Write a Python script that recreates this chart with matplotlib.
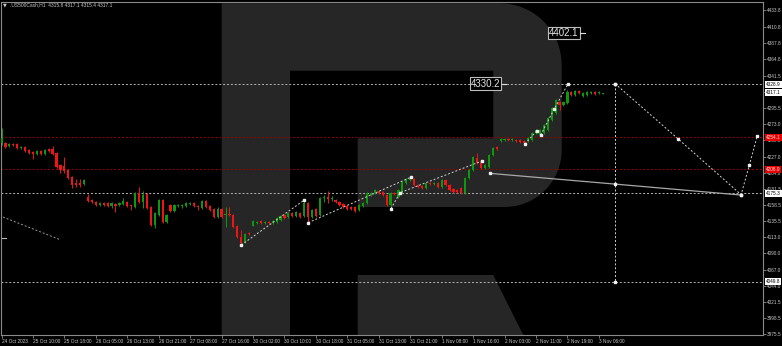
import matplotlib
matplotlib.use("Agg")
import matplotlib.pyplot as plt
import numpy as np
from matplotlib.patches import Polygon
from matplotlib.transforms import Affine2D

symbol = ".US500Cash,H1"
last_ohlc = ["4315.8", "4317.1", "4315.4", "4317.1"]

# hourly candles, 24 Oct - 2 Nov 2023
opens = [4246.1, 4246.1, 4241.8, 4244.7, 4244.7, 4239.0, 4240.4, 4236.2, 4233.4, 4230.5,
         4234.8, 4230.5, 4237.6, 4237.6, 4231.9, 4215.0, 4213.6, 4207.9, 4198.0, 4189.5,
         4189.5, 4188.1, 4169.7, 4165.5, 4162.6, 4158.4, 4161.2, 4161.2, 4157.0, 4159.8,
         4158.4, 4159.8, 4162.6, 4158.4, 4155.6, 4175.4, 4162.6, 4173.9, 4155.6, 4130.1,
         4144.2, 4165.5, 4134.4, 4158.4, 4149.9, 4157.0, 4157.0, 4157.0, 4159.8, 4161.2,
         4157.0, 4154.1, 4164.1, 4157.0, 4152.7, 4141.4, 4152.7, 4143.9, 4145.7, 4144.3,
         4128.7, 4113.1, 4106.0, 4118.3, 4129.2, 4133.0, 4135.8, 4133.0, 4134.4, 4133.0,
         4134.4, 4137.2, 4144.3, 4141.4, 4147.1, 4142.8, 4147.5, 4142.8, 4161.2, 4141.4,
         4152.7, 4144.3, 4168.3, 4169.7, 4166.9, 4165.5, 4162.6, 4160.0, 4157.0, 4155.6,
         4155.6, 4151.3, 4157.0, 4161.2, 4172.5, 4175.4, 4178.2, 4176.8, 4172.5, 4158.4,
         4175.4, 4169.7, 4176.8, 4189.5, 4193.8, 4195.2, 4186.7, 4185.3, 4182.4, 4189.5,
         4188.1, 4189.5, 4183.8, 4193.8, 4186.7, 4181.0, 4179.6, 4182.4, 4175.4, 4196.6,
         4207.9, 4224.9, 4219.2, 4210.7, 4212.1, 4229.1, 4240.4, 4249.0, 4250.3, 4251.8,
         4250.3, 4250.3, 4250.3, 4248.9, 4248.9, 4250.3, 4260.2, 4257.4, 4260.2, 4264.5,
         4278.6, 4288.5, 4304.1, 4299.9, 4302.7, 4318.3, 4314.1, 4319.7, 4312.7, 4314.1,
         4316.9, 4318.3, 4316.9, 4315.8]
highs = [4267.3, 4247.5, 4246.0, 4245.5, 4245.5, 4241.5, 4241.5, 4237.0, 4234.5, 4236.0,
         4236.0, 4237.0, 4239.0, 4241.8, 4233.0, 4216.0, 4226.3, 4209.0, 4199.0, 4195.2,
         4195.2, 4195.0, 4174.0, 4166.5, 4163.5, 4162.5, 4162.0, 4162.0, 4162.6, 4161.0,
         4162.0, 4168.3, 4164.0, 4159.0, 4177.0, 4183.8, 4178.2, 4175.0, 4156.5, 4148.0,
         4167.0, 4167.0, 4145.5, 4159.5, 4159.5, 4160.0, 4159.5, 4162.5, 4162.5, 4162.5,
         4158.0, 4165.5, 4165.5, 4158.0, 4154.0, 4155.6, 4154.0, 4155.6, 4155.6, 4146.0,
         4130.0, 4123.0, 4119.0, 4120.0, 4137.0, 4136.0, 4137.0, 4136.0, 4135.5, 4137.0,
         4141.5, 4144.0, 4145.5, 4148.5, 4148.5, 4150.0, 4149.0, 4165.5, 4162.5, 4152.5,
         4154.0, 4170.0, 4172.5, 4178.2, 4170.5, 4166.5, 4163.5, 4161.0, 4158.0, 4156.5,
         4156.5, 4159.5, 4162.5, 4177.0, 4177.0, 4181.0, 4179.5, 4178.0, 4174.0, 4176.8,
         4176.5, 4181.0, 4192.0, 4196.5, 4197.5, 4196.5, 4188.0, 4186.5, 4191.0, 4191.0,
         4191.0, 4191.0, 4195.0, 4195.0, 4188.0, 4182.5, 4181.0, 4183.8, 4198.0, 4209.5,
         4228.0, 4232.0, 4220.5, 4216.5, 4230.5, 4240.5, 4242.0, 4253.0, 4253.0, 4253.0,
         4253.0, 4251.5, 4251.5, 4250.0, 4254.5, 4261.5, 4266.0, 4266.0, 4273.0, 4283.0,
         4297.0, 4308.5, 4305.5, 4305.5, 4320.5, 4320.0, 4321.0, 4321.0, 4318.0, 4319.5,
         4319.5, 4319.5, 4319.5, 4317.1]
lows = [4243.3, 4239.0, 4241.0, 4242.5, 4238.0, 4238.0, 4233.5, 4231.0, 4223.5, 4229.5,
        4229.5, 4229.0, 4234.0, 4229.5, 4211.0, 4203.7, 4203.7, 4195.5, 4182.4, 4183.8,
        4183.8, 4187.0, 4163.0, 4161.5, 4157.0, 4157.5, 4157.5, 4156.0, 4154.1, 4148.5,
        4157.5, 4159.0, 4156.0, 4151.3, 4154.5, 4161.5, 4154.1, 4153.0, 4129.0, 4125.9,
        4143.0, 4133.0, 4132.5, 4148.5, 4148.5, 4156.0, 4154.0, 4156.0, 4159.0, 4156.0,
        4151.3, 4153.0, 4154.5, 4150.0, 4140.0, 4140.0, 4140.0, 4127.3, 4143.0, 4126.0,
        4112.0, 4101.5, 4104.5, 4115.5, 4128.0, 4132.0, 4132.0, 4132.0, 4132.0, 4132.0,
        4133.5, 4136.0, 4139.0, 4140.5, 4142.0, 4142.0, 4140.5, 4141.5, 4133.5, 4140.0,
        4141.5, 4143.0, 4162.6, 4161.2, 4164.5, 4161.5, 4157.5, 4154.5, 4151.5, 4151.5,
        4148.5, 4150.0, 4156.0, 4160.0, 4171.5, 4174.5, 4174.5, 4171.5, 4157.0, 4153.0,
        4173.0, 4168.5, 4175.5, 4188.5, 4192.5, 4185.5, 4182.5, 4181.0, 4181.0, 4187.0,
        4187.0, 4182.5, 4182.5, 4185.5, 4178.5, 4175.5, 4175.5, 4174.0, 4174.0, 4195.5,
        4206.5, 4216.5, 4209.5, 4209.5, 4211.0, 4227.5, 4236.5, 4248.0, 4249.0, 4249.0,
        4249.0, 4247.5, 4246.0, 4244.7, 4247.5, 4249.0, 4259.0, 4256.0, 4259.0, 4263.0,
        4277.0, 4287.0, 4292.8, 4298.5, 4301.5, 4312.5, 4312.5, 4315.5, 4311.5, 4313.0,
        4316.0, 4314.5, 4316.0, 4315.4]
closes = [4253.2, 4240.4, 4244.7, 4243.3, 4239.0, 4240.4, 4234.8, 4231.9, 4230.5, 4234.8,
          4230.5, 4236.2, 4234.8, 4230.5, 4212.1, 4207.9, 4206.5, 4196.6, 4186.7, 4186.7,
          4186.7, 4193.8, 4164.1, 4162.6, 4158.4, 4161.2, 4158.4, 4157.0, 4161.2, 4157.0,
          4161.2, 4164.1, 4157.0, 4157.0, 4175.4, 4162.6, 4172.5, 4154.1, 4130.1, 4147.1,
          4165.5, 4134.4, 4144.2, 4149.9, 4158.4, 4158.4, 4158.4, 4161.2, 4161.2, 4157.0,
          4155.6, 4164.1, 4155.6, 4151.3, 4141.4, 4152.7, 4141.4, 4145.7, 4144.3, 4127.3,
          4113.1, 4104.6, 4117.3, 4116.9, 4135.8, 4134.4, 4133.0, 4134.4, 4133.0, 4135.8,
          4140.0, 4142.8, 4140.0, 4147.1, 4142.8, 4148.5, 4141.8, 4161.2, 4141.4, 4151.3,
          4142.8, 4168.3, 4169.7, 4166.9, 4168.3, 4162.6, 4158.4, 4155.6, 4152.7, 4152.7,
          4149.9, 4158.4, 4161.2, 4175.4, 4175.4, 4179.6, 4175.4, 4172.5, 4158.4, 4175.4,
          4174.0, 4179.6, 4190.9, 4195.2, 4196.6, 4186.7, 4183.8, 4182.4, 4189.5, 4188.1,
          4189.5, 4183.8, 4193.8, 4186.7, 4179.6, 4176.8, 4176.8, 4175.4, 4196.6, 4207.9,
          4226.3, 4217.8, 4210.7, 4215.0, 4229.1, 4239.0, 4237.6, 4251.8, 4251.8, 4250.3,
          4251.8, 4248.9, 4247.5, 4246.1, 4253.2, 4260.2, 4264.5, 4264.5, 4271.6, 4281.5,
          4295.6, 4306.9, 4299.9, 4304.1, 4318.3, 4314.1, 4319.7, 4316.9, 4316.9, 4318.3,
          4318.3, 4315.5, 4318.3, 4317.1]

time_labels = ["24 Oct 2023", "25 Oct 10:00", "25 Oct 18:00", "26 Oct 05:00", "26 Oct 13:00",
               "26 Oct 21:00", "27 Oct 08:00", "27 Oct 16:00", "30 Oct 02:00", "30 Oct 10:00",
               "30 Oct 18:00", "31 Oct 05:00", "31 Oct 13:00", "31 Oct 21:00", "1 Nov 08:00",
               "1 Nov 16:00", "2 Nov 03:00", "2 Nov 11:00", "2 Nov 19:00", "3 Nov 06:00"]
bars_per_label = 8

price_ticks = [3975.5, 3998.5, 4021.5, 4044.0, 4067.0, 4090.0, 4113.0, 4135.5, 4158.5, 4181.5,
               4204.0, 4227.0, 4250.5, 4273.0, 4295.5, 4318.5, 4341.5, 4364.8, 4387.8, 4410.8, 4433.8]

red_levels = [4254.1, 4208.9]
white_levels = [4328.9, 4175.3, 4049.8]
current_price = 4317.1

# analysis drawings (bar index, price)
wave1_x = [61.0, 77.05]
wave1_y = [4101.8, 4165.5]
wave2_x = [78.05, 104.1]
wave2_y = [4133.4, 4197.6]
wave3_x = [99.1, 101.4, 122.2]
wave3_y = [4153.1, 4175.8, 4220.6]
wave4_x = [133.2, 136.2]
wave4_y = [4244.7, 4263.5]
wave5_x = [137.2, 140.6, 144.2]
wave5_y = [4257.4, 4293.8, 4330.2]
forecast_x = [156.1, 172.2, 188.2, 190.3, 192.3]
forecast_y = [4330.2, 4251.8, 4173.0, 4215.0, 4256.0]
support_x = [124.2, 156.1, 188.2]
support_y = [4203.2, 4188.0, 4172.5]
target_x = [156.1, 156.1]
target_y = [4330.2, 4049.8]
old_x = [0.38, 15.1]
old_y = [4141.4, 4108.9]

label_values = [4330.2, 4402.1]
label_bars = [126.9, 146.9]

BG = "black"
FG = "#c8c8c8"
GREEN = "#0c9a0c"
RED = "#f01414"
SMALL = "Liberation Sans"

fig = plt.figure(figsize=(7.82, 3.46), dpi=100, facecolor=BG)
ax = fig.add_axes([1 / 782, 11 / 346, 762 / 782, 333.5 / 346])
ax.set_facecolor(BG)
ax.set_xlim(-0.13, 193.77)
ax.set_ylim(3974.5, 4446.3)

# watermark "R" (decoration, drawn in image pixels)
img = Affine2D().scale(1 / 782, -1 / 346).translate(0, 1) + fig.transFigure
t1 = np.linspace(np.pi / 2, 0, 20)
t2 = np.linspace(0, -np.pi / 2, 20)
outline = [(221.7, 335), (221.7, 3.3)]
outline += list(zip(500 + 61.7 * np.cos(t1), 65 - 61.7 * np.sin(t1)))
outline += list(zip(504.7 + 57 * np.cos(t2), 150 - 57 * np.sin(t2)))
outline += [(357.7, 207), (357.7, 138.3), (493.3, 138.3), (493.3, 70.7), (290, 70.7), (290, 335)]
leg = [(357.7, 275), (493.3, 275), (523.3, 335), (357.7, 335)]
for shape in (outline, leg):
    ax.add_patch(Polygon(shape, closed=True, transform=img, facecolor="#262626",
                         edgecolor="none", zorder=0))

# levels
for lv in white_levels:
    ax.axhline(lv, color="#b4b4b4", lw=0.7, ls=(0, (2, 2)), zorder=1)
for lv in red_levels:
    ax.axhline(lv, color="#9a0000", lw=0.7, ls=(0, (2, 2)), zorder=1)

# candles
idx = np.arange(len(opens))
o = np.array(opens)
c = np.array(closes)
cols = np.where(c >= o, GREEN, RED)
ax.vlines(idx, lows, highs, colors=cols, lw=0.7, zorder=3)
ax.bar(idx, np.maximum(np.abs(c - o), 1.3), bottom=np.minimum(o, c), width=0.56,
       color=cols, lw=0, zorder=4)

# drawings
dots = dict(color="#d2d2d2", lw=0.7, ls=(0, (2, 2)), zorder=5)
for xs, ys in [(wave1_x, wave1_y), (wave2_x, wave2_y), (wave3_x, wave3_y),
               (wave4_x, wave4_y), (wave5_x, wave5_y), (forecast_x, forecast_y),
               (target_x, target_y)]:
    ax.plot(xs, ys, marker="s", ms=1.8, mfc="#f0f0f0", mec="#f0f0f0", **dots)
ax.plot(old_x, old_y, color="#9a9a9a", lw=0.7, ls=(0, (2, 2)), zorder=5)
ax.plot([0.05, 1.15], [4111.3, 4111.3], color="#bbbbbb", lw=0.8, zorder=5)
ax.plot(support_x, support_y, color="#a8a8a8", lw=0.9, marker="s", ms=1.8,
        mfc="#f0f0f0", mec="#f0f0f0", zorder=5)

for xb, val in zip(label_bars, label_values):
    ax.text(xb, val, f"{val:.1f}", ha="right", va="center", color="#e6e6e6",
            fontsize=7, family=SMALL, zorder=7,
            bbox=dict(boxstyle="square,pad=0.12", fc=BG, ec="#bdbdbd", lw=0.8))
    ax.plot([xb + 0.4, xb + 1.6], [val, val], color="#e0e0e0", lw=0.8, zorder=7)

# axes styling
for s in ax.spines.values():
    s.set_color("#8a8a8a")
    s.set_linewidth(0.8)
ax.yaxis.tick_right()
ax.set_yticks(price_ticks)
ax.set_yticklabels([f"{v:.1f}" for v in price_ticks])
ax.set_xticks(np.arange(len(time_labels)) * bars_per_label)
ax.set_xticklabels(time_labels)
ax.tick_params(axis="both", colors="#8a8a8a", labelcolor=FG, labelsize=3.4,
               length=2, width=0.6, pad=0.8)
for lab in ax.get_xticklabels() + ax.get_yticklabels():
    lab.set_family(SMALL)
for lab in ax.get_xticklabels():
    lab.set_ha("left")

# price boxes on the right scale
ytr = ax.get_yaxis_transform()
boxes = [(v, "white", "black") for v in white_levels + [current_price]]
boxes += [(v, "#e60000", "#ffe0e0") for v in red_levels]
for v, fc, tc in boxes:
    ax.annotate(f"{v:.1f}", xy=(1, v), xycoords=ytr, xytext=(3, 0),
                textcoords="offset pixels", ha="left", va="center", fontsize=3.4,
                family=SMALL, color=tc, annotation_clip=False, zorder=8,
                bbox=dict(boxstyle="square,pad=0.2", fc=fc, ec="none"))

fig.text(3 / 782, 1 - 5 / 346, "\u25bc", color=FG, fontsize=3.5, va="center")
fig.text(10 / 782, 1 - 5 / 346, symbol + "  " + " ".join(last_ohlc), color=FG,
         fontsize=3.5, family=SMALL, va="center")

fig.savefig("out.png", dpi=100, facecolor=BG)
